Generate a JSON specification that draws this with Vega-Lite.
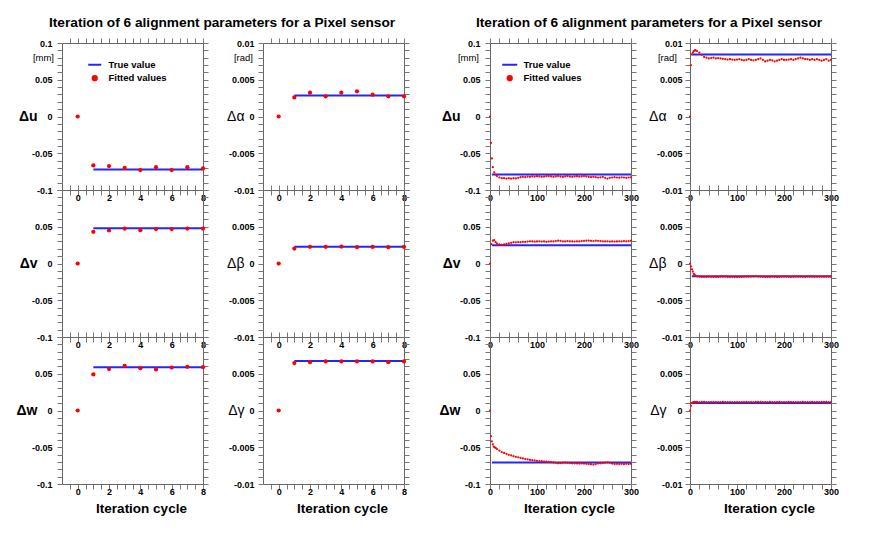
{
"$schema":"https://vega.github.io/schema/vega-lite/v6.json",
"background":"white",
"padding":{"left":15,"top":16,"right":5,"bottom":5},
"config":{
 "font":"Liberation Sans",
 "view":{"stroke":"#666","strokeWidth":1},
 "axis":{"domain":false,"grid":false,"ticks":true,"tickSize":5,"tickColor":"#777","tickWidth":1,"labelFont":"Liberation Sans","labelFontSize":9,"labelFontWeight":"bold","labelColor":"#000","labelFlush":false,"labelOverlap":false,"labelBound":false,"titleFont":"Liberation Sans","titleColor":"#000"}
},
"datasets":{
"truth":[
{"p":"Lu","i":1,"v":-0.072},{"p":"Lu","i":8,"v":-0.072},
{"p":"La","i":1,"v":0.00287},{"p":"La","i":8,"v":0.00287},
{"p":"Lv","i":1,"v":0.0478},{"p":"Lv","i":8,"v":0.0478},
{"p":"Lb","i":1,"v":0.00227},{"p":"Lb","i":8,"v":0.00227},
{"p":"Lw","i":1,"v":0.0588},{"p":"Lw","i":8,"v":0.0588},
{"p":"Lg","i":1,"v":0.00672},{"p":"Lg","i":8,"v":0.00672},
{"p":"Ru","i":4,"v":-0.079},{"p":"Ru","i":300,"v":-0.079},
{"p":"Ra","i":4,"v":0.00845},{"p":"Ra","i":300,"v":0.00845},
{"p":"Rv","i":4,"v":0.025},{"p":"Rv","i":300,"v":0.025},
{"p":"Rb","i":4,"v":-0.00175},{"p":"Rb","i":300,"v":-0.00175},
{"p":"Rw","i":4,"v":-0.0709},{"p":"Rw","i":300,"v":-0.0709},
{"p":"Rg","i":4,"v":0.00103},{"p":"Rg","i":300,"v":0.00103}
],
"pts":[
{"p":"Lu","i":0,"v":0},{"p":"Lu","i":1,"v":-0.0665},{"p":"Lu","i":2,"v":-0.0674},{"p":"Lu","i":3,"v":-0.070},{"p":"Lu","i":4,"v":-0.0728},{"p":"Lu","i":5,"v":-0.069},{"p":"Lu","i":6,"v":-0.0728},{"p":"Lu","i":7,"v":-0.069},{"p":"Lu","i":8,"v":-0.0707},
{"p":"La","i":0,"v":0},{"p":"La","i":1,"v":0.0026},{"p":"La","i":2,"v":0.00324},{"p":"La","i":3,"v":0.00274},{"p":"La","i":4,"v":0.00324},{"p":"La","i":5,"v":0.00342},{"p":"La","i":6,"v":0.00297},{"p":"La","i":7,"v":0.00274},{"p":"La","i":8,"v":0.00274},
{"p":"Lv","i":0,"v":0},{"p":"Lv","i":1,"v":0.0431},{"p":"Lv","i":2,"v":0.0449},{"p":"Lv","i":3,"v":0.0476},{"p":"Lv","i":4,"v":0.0454},{"p":"Lv","i":5,"v":0.0468},{"p":"Lv","i":6,"v":0.0468},{"p":"Lv","i":7,"v":0.0476},{"p":"Lv","i":8,"v":0.0476},
{"p":"Lb","i":0,"v":0},{"p":"Lb","i":1,"v":0.00204},{"p":"Lb","i":2,"v":0.00227},{"p":"Lb","i":3,"v":0.00227},{"p":"Lb","i":4,"v":0.0023},{"p":"Lb","i":5,"v":0.00222},{"p":"Lb","i":6,"v":0.00225},{"p":"Lb","i":7,"v":0.00222},{"p":"Lb","i":8,"v":0.00225},
{"p":"Lw","i":0,"v":0},{"p":"Lw","i":1,"v":0.049},{"p":"Lw","i":2,"v":0.0563},{"p":"Lw","i":3,"v":0.0608},{"p":"Lw","i":4,"v":0.0576},{"p":"Lw","i":5,"v":0.0558},{"p":"Lw","i":6,"v":0.0585},{"p":"Lw","i":7,"v":0.0594},{"p":"Lw","i":8,"v":0.059},
{"p":"Lg","i":0,"v":0},{"p":"Lg","i":1,"v":0.00645},{"p":"Lg","i":2,"v":0.00658},{"p":"Lg","i":3,"v":0.00667},{"p":"Lg","i":4,"v":0.00667},{"p":"Lg","i":5,"v":0.00667},{"p":"Lg","i":6,"v":0.00667},{"p":"Lg","i":7,"v":0.00658},{"p":"Lg","i":8,"v":0.00667},
{"p":"Ru","i":0,"v":0},{"p":"Ru","i":2,"v":-0.036},{"p":"Ru","i":4,"v":-0.057},{"p":"Ru","i":6,"v":-0.069},{"p":"Ru","i":9,"v":-0.076},{"p":"Ru","i":12,"v":-0.079},{"p":"Ru","i":15,"v":-0.081},{"p":"Ru","i":20,"v":-0.083},{"p":"Ru","i":25,"v":-0.084},{"p":"Ru","i":30,"v":-0.084},{"p":"Ru","i":35,"v":-0.0845},{"p":"Ru","i":40,"v":-0.084},{"p":"Ru","i":45,"v":-0.0845},{"p":"Ru","i":50,"v":-0.084},{"p":"Ru","i":55,"v":-0.0842},{"p":"Ru","i":60,"v":-0.0835},{"p":"Ru","i":65,"v":-0.0825},{"p":"Ru","i":70,"v":-0.082},{"p":"Ru","i":75,"v":-0.0825},{"p":"Ru","i":80,"v":-0.0818},{"p":"Ru","i":85,"v":-0.082},{"p":"Ru","i":90,"v":-0.0815},{"p":"Ru","i":95,"v":-0.0818},{"p":"Ru","i":100,"v":-0.0812},{"p":"Ru","i":105,"v":-0.0815},{"p":"Ru","i":110,"v":-0.082},{"p":"Ru","i":115,"v":-0.0818},{"p":"Ru","i":120,"v":-0.0812},{"p":"Ru","i":125,"v":-0.081},{"p":"Ru","i":130,"v":-0.0815},{"p":"Ru","i":135,"v":-0.082},{"p":"Ru","i":140,"v":-0.0815},{"p":"Ru","i":145,"v":-0.081},{"p":"Ru","i":150,"v":-0.0818},{"p":"Ru","i":155,"v":-0.0822},{"p":"Ru","i":160,"v":-0.0815},{"p":"Ru","i":165,"v":-0.081},{"p":"Ru","i":170,"v":-0.0818},{"p":"Ru","i":175,"v":-0.082},{"p":"Ru","i":180,"v":-0.0815},{"p":"Ru","i":185,"v":-0.0812},{"p":"Ru","i":190,"v":-0.0818},{"p":"Ru","i":195,"v":-0.0815},{"p":"Ru","i":200,"v":-0.081},{"p":"Ru","i":205,"v":-0.0815},{"p":"Ru","i":210,"v":-0.082},{"p":"Ru","i":215,"v":-0.0825},{"p":"Ru","i":220,"v":-0.082},{"p":"Ru","i":225,"v":-0.0825},{"p":"Ru","i":230,"v":-0.083},{"p":"Ru","i":235,"v":-0.0828},{"p":"Ru","i":240,"v":-0.082},{"p":"Ru","i":245,"v":-0.0835},{"p":"Ru","i":250,"v":-0.0845},{"p":"Ru","i":255,"v":-0.0835},{"p":"Ru","i":260,"v":-0.083},{"p":"Ru","i":265,"v":-0.0825},{"p":"Ru","i":270,"v":-0.083},{"p":"Ru","i":275,"v":-0.0832},{"p":"Ru","i":280,"v":-0.0828},{"p":"Ru","i":285,"v":-0.083},{"p":"Ru","i":290,"v":-0.0835},{"p":"Ru","i":295,"v":-0.083},{"p":"Ru","i":300,"v":-0.0828},
{"p":"Ra","i":0,"v":0},{"p":"Ra","i":2,"v":0.0070},{"p":"Ra","i":4,"v":0.00845},{"p":"Ra","i":6,"v":0.0087},{"p":"Ra","i":8,"v":0.0089},{"p":"Ra","i":10,"v":0.0090},{"p":"Ra","i":12,"v":0.0090},{"p":"Ra","i":15,"v":0.0089},{"p":"Ra","i":20,"v":0.0087},{"p":"Ra","i":25,"v":0.0084},{"p":"Ra","i":30,"v":0.0081},{"p":"Ra","i":35,"v":0.0080},{"p":"Ra","i":40,"v":0.0079},{"p":"Ra","i":45,"v":0.00795},{"p":"Ra","i":50,"v":0.0080},{"p":"Ra","i":55,"v":0.0079},{"p":"Ra","i":60,"v":0.00795},{"p":"Ra","i":65,"v":0.0079},{"p":"Ra","i":70,"v":0.00785},{"p":"Ra","i":75,"v":0.0078},{"p":"Ra","i":80,"v":0.00775},{"p":"Ra","i":85,"v":0.0078},{"p":"Ra","i":90,"v":0.00775},{"p":"Ra","i":95,"v":0.0077},{"p":"Ra","i":100,"v":0.00775},{"p":"Ra","i":105,"v":0.0078},{"p":"Ra","i":110,"v":0.0077},{"p":"Ra","i":115,"v":0.00765},{"p":"Ra","i":120,"v":0.0077},{"p":"Ra","i":125,"v":0.0078},{"p":"Ra","i":130,"v":0.0077},{"p":"Ra","i":135,"v":0.00765},{"p":"Ra","i":140,"v":0.0077},{"p":"Ra","i":145,"v":0.0078},{"p":"Ra","i":150,"v":0.0079},{"p":"Ra","i":155,"v":0.0077},{"p":"Ra","i":160,"v":0.0075},{"p":"Ra","i":165,"v":0.0076},{"p":"Ra","i":170,"v":0.0077},{"p":"Ra","i":175,"v":0.00765},{"p":"Ra","i":180,"v":0.0075},{"p":"Ra","i":185,"v":0.0076},{"p":"Ra","i":190,"v":0.0077},{"p":"Ra","i":195,"v":0.0078},{"p":"Ra","i":200,"v":0.0077},{"p":"Ra","i":205,"v":0.0077},{"p":"Ra","i":210,"v":0.00775},{"p":"Ra","i":215,"v":0.0078},{"p":"Ra","i":220,"v":0.0077},{"p":"Ra","i":225,"v":0.0078},{"p":"Ra","i":230,"v":0.0079},{"p":"Ra","i":235,"v":0.0080},{"p":"Ra","i":240,"v":0.0079},{"p":"Ra","i":245,"v":0.0078},{"p":"Ra","i":250,"v":0.0078},{"p":"Ra","i":255,"v":0.0077},{"p":"Ra","i":260,"v":0.0078},{"p":"Ra","i":265,"v":0.0077},{"p":"Ra","i":270,"v":0.0078},{"p":"Ra","i":275,"v":0.0077},{"p":"Ra","i":280,"v":0.0076},{"p":"Ra","i":285,"v":0.0077},{"p":"Ra","i":290,"v":0.0078},{"p":"Ra","i":295,"v":0.0076},{"p":"Ra","i":300,"v":0.0077},
{"p":"Rv","i":0,"v":0},{"p":"Rv","i":3,"v":0.0264},{"p":"Rv","i":6,"v":0.031},{"p":"Rv","i":9,"v":0.0318},{"p":"Rv","i":12,"v":0.029},{"p":"Rv","i":15,"v":0.027},{"p":"Rv","i":20,"v":0.026},{"p":"Rv","i":25,"v":0.0255},{"p":"Rv","i":30,"v":0.026},{"p":"Rv","i":35,"v":0.0268},{"p":"Rv","i":40,"v":0.0275},{"p":"Rv","i":45,"v":0.0282},{"p":"Rv","i":50,"v":0.029},{"p":"Rv","i":55,"v":0.0288},{"p":"Rv","i":60,"v":0.0292},{"p":"Rv","i":65,"v":0.029},{"p":"Rv","i":70,"v":0.0295},{"p":"Rv","i":75,"v":0.0293},{"p":"Rv","i":80,"v":0.0298},{"p":"Rv","i":85,"v":0.0302},{"p":"Rv","i":90,"v":0.030},{"p":"Rv","i":95,"v":0.0297},{"p":"Rv","i":100,"v":0.030},{"p":"Rv","i":105,"v":0.0302},{"p":"Rv","i":110,"v":0.0298},{"p":"Rv","i":115,"v":0.030},{"p":"Rv","i":120,"v":0.0295},{"p":"Rv","i":125,"v":0.0298},{"p":"Rv","i":130,"v":0.0302},{"p":"Rv","i":135,"v":0.030},{"p":"Rv","i":140,"v":0.0305},{"p":"Rv","i":145,"v":0.031},{"p":"Rv","i":150,"v":0.0308},{"p":"Rv","i":155,"v":0.0302},{"p":"Rv","i":160,"v":0.030},{"p":"Rv","i":165,"v":0.0305},{"p":"Rv","i":170,"v":0.0302},{"p":"Rv","i":175,"v":0.030},{"p":"Rv","i":180,"v":0.0298},{"p":"Rv","i":185,"v":0.0302},{"p":"Rv","i":190,"v":0.030},{"p":"Rv","i":195,"v":0.0305},{"p":"Rv","i":200,"v":0.0308},{"p":"Rv","i":205,"v":0.031},{"p":"Rv","i":210,"v":0.0312},{"p":"Rv","i":215,"v":0.0308},{"p":"Rv","i":220,"v":0.0305},{"p":"Rv","i":225,"v":0.031},{"p":"Rv","i":230,"v":0.0308},{"p":"Rv","i":235,"v":0.0305},{"p":"Rv","i":240,"v":0.0302},{"p":"Rv","i":245,"v":0.030},{"p":"Rv","i":250,"v":0.0302},{"p":"Rv","i":255,"v":0.0298},{"p":"Rv","i":260,"v":0.030},{"p":"Rv","i":265,"v":0.0298},{"p":"Rv","i":270,"v":0.030},{"p":"Rv","i":275,"v":0.0302},{"p":"Rv","i":280,"v":0.030},{"p":"Rv","i":285,"v":0.0305},{"p":"Rv","i":290,"v":0.0302},{"p":"Rv","i":295,"v":0.0305},{"p":"Rv","i":300,"v":0.031},
{"p":"Rb","i":0,"v":0},{"p":"Rb","i":2,"v":-0.0004},{"p":"Rb","i":4,"v":-0.0008},{"p":"Rb","i":6,"v":-0.0011},{"p":"Rb","i":8,"v":-0.0014},{"p":"Rb","i":10,"v":-0.00155},{"p":"Rb","i":12,"v":-0.00167},{"p":"Rb","i":15,"v":-0.00175},{"p":"Rb","i":20,"v":-0.0018},{"p":"Rb","i":25,"v":-0.00182},{"p":"Rb","i":30,"v":-0.00183},{"p":"Rb","i":35,"v":-0.00182},{"p":"Rb","i":40,"v":-0.0018},{"p":"Rb","i":45,"v":-0.00181},{"p":"Rb","i":50,"v":-0.00182},{"p":"Rb","i":55,"v":-0.00183},{"p":"Rb","i":60,"v":-0.00182},{"p":"Rb","i":65,"v":-0.0018},{"p":"Rb","i":70,"v":-0.00179},{"p":"Rb","i":75,"v":-0.0018},{"p":"Rb","i":80,"v":-0.00182},{"p":"Rb","i":85,"v":-0.00183},{"p":"Rb","i":90,"v":-0.00182},{"p":"Rb","i":95,"v":-0.00184},{"p":"Rb","i":100,"v":-0.00185},{"p":"Rb","i":105,"v":-0.00184},{"p":"Rb","i":110,"v":-0.00182},{"p":"Rb","i":115,"v":-0.0018},{"p":"Rb","i":120,"v":-0.00179},{"p":"Rb","i":125,"v":-0.0018},{"p":"Rb","i":130,"v":-0.00178},{"p":"Rb","i":135,"v":-0.00176},{"p":"Rb","i":140,"v":-0.00175},{"p":"Rb","i":145,"v":-0.00177},{"p":"Rb","i":150,"v":-0.00179},{"p":"Rb","i":155,"v":-0.00181},{"p":"Rb","i":160,"v":-0.00183},{"p":"Rb","i":165,"v":-0.00184},{"p":"Rb","i":170,"v":-0.00182},{"p":"Rb","i":175,"v":-0.0018},{"p":"Rb","i":180,"v":-0.00181},{"p":"Rb","i":185,"v":-0.00183},{"p":"Rb","i":190,"v":-0.00182},{"p":"Rb","i":195,"v":-0.0018},{"p":"Rb","i":200,"v":-0.00179},{"p":"Rb","i":205,"v":-0.0018},{"p":"Rb","i":210,"v":-0.00181},{"p":"Rb","i":215,"v":-0.00182},{"p":"Rb","i":220,"v":-0.00181},{"p":"Rb","i":225,"v":-0.0018},{"p":"Rb","i":230,"v":-0.00179},{"p":"Rb","i":235,"v":-0.0018},{"p":"Rb","i":240,"v":-0.00181},{"p":"Rb","i":245,"v":-0.00182},{"p":"Rb","i":250,"v":-0.0018},{"p":"Rb","i":255,"v":-0.00179},{"p":"Rb","i":260,"v":-0.0018},{"p":"Rb","i":265,"v":-0.00181},{"p":"Rb","i":270,"v":-0.0018},{"p":"Rb","i":275,"v":-0.00179},{"p":"Rb","i":280,"v":-0.0018},{"p":"Rb","i":285,"v":-0.00181},{"p":"Rb","i":290,"v":-0.0018},{"p":"Rb","i":295,"v":-0.00179},{"p":"Rb","i":300,"v":-0.0018},
{"p":"Rw","i":0,"v":0},{"p":"Rw","i":2,"v":-0.035},{"p":"Rw","i":4,"v":-0.042},{"p":"Rw","i":6,"v":-0.046},{"p":"Rw","i":8,"v":-0.049},{"p":"Rw","i":10,"v":-0.050},{"p":"Rw","i":12,"v":-0.051},{"p":"Rw","i":15,"v":-0.0525},{"p":"Rw","i":20,"v":-0.0545},{"p":"Rw","i":25,"v":-0.0565},{"p":"Rw","i":30,"v":-0.0578},{"p":"Rw","i":35,"v":-0.059},{"p":"Rw","i":40,"v":-0.0603},{"p":"Rw","i":45,"v":-0.0612},{"p":"Rw","i":50,"v":-0.0622},{"p":"Rw","i":55,"v":-0.063},{"p":"Rw","i":60,"v":-0.0637},{"p":"Rw","i":65,"v":-0.0645},{"p":"Rw","i":70,"v":-0.0652},{"p":"Rw","i":75,"v":-0.066},{"p":"Rw","i":80,"v":-0.0665},{"p":"Rw","i":85,"v":-0.0672},{"p":"Rw","i":90,"v":-0.0676},{"p":"Rw","i":95,"v":-0.068},{"p":"Rw","i":100,"v":-0.0685},{"p":"Rw","i":105,"v":-0.0688},{"p":"Rw","i":110,"v":-0.069},{"p":"Rw","i":115,"v":-0.0694},{"p":"Rw","i":120,"v":-0.0697},{"p":"Rw","i":125,"v":-0.070},{"p":"Rw","i":130,"v":-0.0703},{"p":"Rw","i":135,"v":-0.0706},{"p":"Rw","i":140,"v":-0.0712},{"p":"Rw","i":145,"v":-0.0718},{"p":"Rw","i":150,"v":-0.0715},{"p":"Rw","i":155,"v":-0.0712},{"p":"Rw","i":160,"v":-0.071},{"p":"Rw","i":165,"v":-0.0712},{"p":"Rw","i":170,"v":-0.0715},{"p":"Rw","i":175,"v":-0.0718},{"p":"Rw","i":180,"v":-0.0718},{"p":"Rw","i":185,"v":-0.072},{"p":"Rw","i":190,"v":-0.0722},{"p":"Rw","i":195,"v":-0.072},{"p":"Rw","i":200,"v":-0.0722},{"p":"Rw","i":205,"v":-0.0725},{"p":"Rw","i":210,"v":-0.0728},{"p":"Rw","i":215,"v":-0.073},{"p":"Rw","i":220,"v":-0.0735},{"p":"Rw","i":225,"v":-0.0728},{"p":"Rw","i":230,"v":-0.072},{"p":"Rw","i":235,"v":-0.0718},{"p":"Rw","i":240,"v":-0.0715},{"p":"Rw","i":245,"v":-0.071},{"p":"Rw","i":250,"v":-0.0705},{"p":"Rw","i":255,"v":-0.0712},{"p":"Rw","i":260,"v":-0.0722},{"p":"Rw","i":265,"v":-0.0728},{"p":"Rw","i":270,"v":-0.0725},{"p":"Rw","i":275,"v":-0.0728},{"p":"Rw","i":280,"v":-0.0725},{"p":"Rw","i":285,"v":-0.0728},{"p":"Rw","i":290,"v":-0.0725},{"p":"Rw","i":295,"v":-0.0728},{"p":"Rw","i":300,"v":-0.0725},
{"p":"Rg","i":0,"v":0},{"p":"Rg","i":2,"v":0.00064},{"p":"Rg","i":4,"v":0.001},{"p":"Rg","i":6,"v":0.00112},{"p":"Rg","i":8,"v":0.00115},{"p":"Rg","i":10,"v":0.00116},{"p":"Rg","i":12,"v":0.00115},{"p":"Rg","i":15,"v":0.00116},{"p":"Rg","i":20,"v":0.00115},{"p":"Rg","i":25,"v":0.00117},{"p":"Rg","i":30,"v":0.00116},{"p":"Rg","i":35,"v":0.00115},{"p":"Rg","i":40,"v":0.00114},{"p":"Rg","i":45,"v":0.00115},{"p":"Rg","i":50,"v":0.00116},{"p":"Rg","i":55,"v":0.00115},{"p":"Rg","i":60,"v":0.00114},{"p":"Rg","i":65,"v":0.00115},{"p":"Rg","i":70,"v":0.00116},{"p":"Rg","i":75,"v":0.00115},{"p":"Rg","i":80,"v":0.00114},{"p":"Rg","i":85,"v":0.00113},{"p":"Rg","i":90,"v":0.00114},{"p":"Rg","i":95,"v":0.00115},{"p":"Rg","i":100,"v":0.00114},{"p":"Rg","i":105,"v":0.00113},{"p":"Rg","i":110,"v":0.00114},{"p":"Rg","i":115,"v":0.00115},{"p":"Rg","i":120,"v":0.00116},{"p":"Rg","i":125,"v":0.00115},{"p":"Rg","i":130,"v":0.00114},{"p":"Rg","i":135,"v":0.00115},{"p":"Rg","i":140,"v":0.00116},{"p":"Rg","i":145,"v":0.00117},{"p":"Rg","i":150,"v":0.00116},{"p":"Rg","i":155,"v":0.00115},{"p":"Rg","i":160,"v":0.00114},{"p":"Rg","i":165,"v":0.00115},{"p":"Rg","i":170,"v":0.00116},{"p":"Rg","i":175,"v":0.00115},{"p":"Rg","i":180,"v":0.00114},{"p":"Rg","i":185,"v":0.00115},{"p":"Rg","i":190,"v":0.00116},{"p":"Rg","i":195,"v":0.00115},{"p":"Rg","i":200,"v":0.00114},{"p":"Rg","i":205,"v":0.00115},{"p":"Rg","i":210,"v":0.00116},{"p":"Rg","i":215,"v":0.00115},{"p":"Rg","i":220,"v":0.00114},{"p":"Rg","i":225,"v":0.00113},{"p":"Rg","i":230,"v":0.00114},{"p":"Rg","i":235,"v":0.00115},{"p":"Rg","i":240,"v":0.00116},{"p":"Rg","i":245,"v":0.00115},{"p":"Rg","i":250,"v":0.00114},{"p":"Rg","i":255,"v":0.00115},{"p":"Rg","i":260,"v":0.00116},{"p":"Rg","i":265,"v":0.00115},{"p":"Rg","i":270,"v":0.00114},{"p":"Rg","i":275,"v":0.00115},{"p":"Rg","i":280,"v":0.00116},{"p":"Rg","i":285,"v":0.00117},{"p":"Rg","i":290,"v":0.00116},{"p":"Rg","i":295,"v":0.00115},{"p":"Rg","i":300,"v":0.00114}
]
},
"hconcat":[
{
 "title":{"text":"Iteration of 6 alignment parameters for a Pixel sensor","frame":"group","anchor":"start","dx":-13,"fontSize":13.7,"fontWeight":"bold","font":"Liberation Sans","color":"#000","offset":7},
 "columns":2,"spacing":{"row":0,"column":60},"bounds":"flush",
 "resolve":{"scale":{"color":"independent"},"legend":{"color":"independent"}},
 "concat":[
  {"width":141,"height":147,"resolve":{"axis":{"x":"independent","y":"independent"}},
   "layer":[
    {"data":{"name":"truth"},"transform":[{"filter":"datum.p=='Lu'"}],"mark":{"type":"line","strokeWidth":2},
     "encoding":{
      "x":{"field":"i","type":"quantitative","scale":{"domain":[-1,8],"nice":false,"zero":false},"axis":{"orient":"bottom","values":[-0.5,0,0.5,1,1.5,2,2.5,3,3.5,4,4.5,5,5.5,6,6.5,7,7.5,8],"labelExpr":"datum.value%2==0 ? ''+datum.value : ''","labelPadding":-2,"title":null,"encode":{"ticks":{"update":{"y2":{"signal":"datum.value%2==0 ? -5 : -3"}}}}}},
      "y":{"field":"v","type":"quantitative","scale":{"domain":[-0.1,0.1],"nice":false,"zero":false},"axis":{"orient":"left","values":[-0.1,-0.09,-0.08,-0.07,-0.06,-0.05,-0.04,-0.03,-0.02,-0.01,0,0.01,0.02,0.03,0.04,0.05,0.06,0.07,0.08,0.09,0.1],"labelExpr":"abs(datum.value*20-round(datum.value*20))<0.001 ? ''+datum.value : ''","labelPadding":5,"title":"Δu","titleAngle":0,"titleAlign":"right","titleBaseline":"middle","titleX":-25,"titleY":73.5,"titleFontSize":14,"titleFontWeight":"bold","encode":{"ticks":{"update":{"x2":{"signal":"abs(datum.value*20-round(datum.value*20))<0.001 ? 5 : 3"}}}}}},
      "color":{"datum":"True value","scale":{"domain":["True value","Fitted values"],"range":["#2424ff","#ff0000"]},
       "legend":{"orient":"none","legendX":28,"legendY":17,"title":null,"padding":0,"symbolSize":100,"labelOffset":9,"rowPadding":1.4,"labelFont":"Liberation Sans","labelFontSize":9.5,"labelFontWeight":"bold","labelColor":"#000",
        "encode":{"symbols":{"update":{"shape":{"signal":"datum.value=='True value' ? 'M-1.3,0H1.3' : 'circle'"},"size":{"signal":"datum.value=='True value' ? 100 : 18"},"fill":{"signal":"datum.value=='True value' ? 'transparent' : '#ff0000'"},"stroke":{"signal":"datum.value=='True value' ? '#2424ff' : 'transparent'"},"strokeWidth":{"value":2},"opacity":{"value":1}}}}}}
     }},
    {"data":{"name":"pts"},"transform":[{"filter":"datum.p=='Lu'"}],"mark":{"type":"circle","size":18,"opacity":1},
     "encoding":{
      "x":{"field":"i","type":"quantitative","axis":{"orient":"top","values":[-0.5,0,0.5,1,1.5,2,2.5,3,3.5,4,4.5,5,5.5,6,6.5,7,7.5,8],"labels":false,"title":null,"encode":{"ticks":{"update":{"y2":{"signal":"datum.value%2==0 ? 5 : 3"}}}}}},
      "y":{"field":"v","type":"quantitative","axis":{"orient":"right","values":[-0.1,-0.09,-0.08,-0.07,-0.06,-0.05,-0.04,-0.03,-0.02,-0.01,0,0.01,0.02,0.03,0.04,0.05,0.06,0.07,0.08,0.09,0.1],"labels":false,"title":null,"encode":{"ticks":{"update":{"x2":{"signal":"abs(datum.value*20-round(datum.value*20))<0.001 ? -5 : -3"}}}}}},
      "color":{"datum":"Fitted values"}
     }},
    {"data":{"values":[{"t":"[mm]"}]},"mark":{"type":"text","align":"right","baseline":"middle","dx":-8,"fontSize":9.5,"font":"Liberation Sans","color":"#000"},
     "encoding":{"x":{"datum":-1,"type":"quantitative","axis":null},"y":{"datum":0.08,"type":"quantitative","axis":null},"text":{"field":"t"}}}
   ]},
  {"width":141,"height":147,"resolve":{"axis":{"x":"independent","y":"independent"}},
   "layer":[
    {"data":{"name":"truth"},"transform":[{"filter":"datum.p=='La'"}],"mark":{"type":"line","strokeWidth":2,"color":"#2424ff"},
     "encoding":{
      "x":{"field":"i","type":"quantitative","scale":{"domain":[-1,8],"nice":false,"zero":false},"axis":{"orient":"bottom","values":[-0.5,0,0.5,1,1.5,2,2.5,3,3.5,4,4.5,5,5.5,6,6.5,7,7.5,8],"labelExpr":"datum.value%2==0 ? ''+datum.value : ''","labelPadding":-2,"title":null,"encode":{"ticks":{"update":{"y2":{"signal":"datum.value%2==0 ? -5 : -3"}}}}}},
      "y":{"field":"v","type":"quantitative","scale":{"domain":[-0.01,0.01],"nice":false,"zero":false},"axis":{"orient":"left","values":[-0.01,-0.009,-0.008,-0.007,-0.006,-0.005,-0.004,-0.003,-0.002,-0.001,0,0.001,0.002,0.003,0.004,0.005,0.006,0.007,0.008,0.009,0.01],"labelExpr":"abs(datum.value*200-round(datum.value*200))<0.001 ? ''+datum.value : ''","labelPadding":4,"title":"Δα","titleAngle":0,"titleAlign":"right","titleBaseline":"middle","titleX":-19,"titleY":73.5,"titleFontSize":14,"titleFontWeight":"normal","encode":{"ticks":{"update":{"x2":{"signal":"abs(datum.value*200-round(datum.value*200))<0.001 ? 5 : 3"}}}}}}
     }},
    {"data":{"name":"pts"},"transform":[{"filter":"datum.p=='La'"}],"mark":{"type":"circle","size":18,"opacity":1,"color":"#ff0000"},
     "encoding":{
      "x":{"field":"i","type":"quantitative","axis":{"orient":"top","values":[-0.5,0,0.5,1,1.5,2,2.5,3,3.5,4,4.5,5,5.5,6,6.5,7,7.5,8],"labels":false,"title":null,"encode":{"ticks":{"update":{"y2":{"signal":"datum.value%2==0 ? 5 : 3"}}}}}},
      "y":{"field":"v","type":"quantitative","axis":{"orient":"right","values":[-0.01,-0.009,-0.008,-0.007,-0.006,-0.005,-0.004,-0.003,-0.002,-0.001,0,0.001,0.002,0.003,0.004,0.005,0.006,0.007,0.008,0.009,0.01],"labels":false,"title":null,"encode":{"ticks":{"update":{"x2":{"signal":"abs(datum.value*200-round(datum.value*200))<0.001 ? -5 : -3"}}}}}}
     }},
    {"data":{"values":[{"t":"[rad]"}]},"mark":{"type":"text","align":"right","baseline":"middle","dx":-10,"fontSize":9.5,"font":"Liberation Sans","color":"#000"},
     "encoding":{"x":{"datum":-1,"type":"quantitative","axis":null},"y":{"datum":0.008,"type":"quantitative","axis":null},"text":{"field":"t"}}}
   ]},
  {"width":141,"height":147,"resolve":{"axis":{"x":"independent","y":"independent"}},
   "layer":[
    {"data":{"name":"truth"},"transform":[{"filter":"datum.p=='Lv'"}],"mark":{"type":"line","strokeWidth":2,"color":"#2424ff"},
     "encoding":{
      "x":{"field":"i","type":"quantitative","scale":{"domain":[-1,8],"nice":false,"zero":false},"axis":{"orient":"bottom","values":[-0.5,0,0.5,1,1.5,2,2.5,3,3.5,4,4.5,5,5.5,6,6.5,7,7.5,8],"labelExpr":"datum.value%2==0 ? ''+datum.value : ''","labelPadding":-2,"title":null,"encode":{"ticks":{"update":{"y2":{"signal":"datum.value%2==0 ? -5 : -3"}}}}}},
      "y":{"field":"v","type":"quantitative","scale":{"domain":[-0.1,0.1],"nice":false,"zero":false},"axis":{"orient":"left","values":[-0.1,-0.09,-0.08,-0.07,-0.06,-0.05,-0.04,-0.03,-0.02,-0.01,0,0.01,0.02,0.03,0.04,0.05,0.06,0.07,0.08,0.09,0.1],"labelExpr":"abs(datum.value*20-round(datum.value*20))<0.001 && datum.value<0.099 ? ''+datum.value : ''","labelPadding":5,"title":"Δv","titleAngle":0,"titleAlign":"right","titleBaseline":"middle","titleX":-25,"titleY":73.5,"titleFontSize":14,"titleFontWeight":"bold","encode":{"ticks":{"update":{"x2":{"signal":"abs(datum.value*20-round(datum.value*20))<0.001 ? 5 : 3"}}}}}}
     }},
    {"data":{"name":"pts"},"transform":[{"filter":"datum.p=='Lv'"}],"mark":{"type":"circle","size":18,"opacity":1,"color":"#ff0000"},
     "encoding":{
      "x":{"field":"i","type":"quantitative","axis":{"orient":"top","values":[-0.5,0,0.5,1,1.5,2,2.5,3,3.5,4,4.5,5,5.5,6,6.5,7,7.5,8],"labels":false,"title":null,"encode":{"ticks":{"update":{"y2":{"signal":"datum.value%2==0 ? 5 : 3"}}}}}},
      "y":{"field":"v","type":"quantitative","axis":{"orient":"right","values":[-0.1,-0.09,-0.08,-0.07,-0.06,-0.05,-0.04,-0.03,-0.02,-0.01,0,0.01,0.02,0.03,0.04,0.05,0.06,0.07,0.08,0.09,0.1],"labels":false,"title":null,"encode":{"ticks":{"update":{"x2":{"signal":"abs(datum.value*20-round(datum.value*20))<0.001 ? -5 : -3"}}}}}}
     }}
   ]},
  {"width":141,"height":147,"resolve":{"axis":{"x":"independent","y":"independent"}},
   "layer":[
    {"data":{"name":"truth"},"transform":[{"filter":"datum.p=='Lb'"}],"mark":{"type":"line","strokeWidth":2,"color":"#2424ff"},
     "encoding":{
      "x":{"field":"i","type":"quantitative","scale":{"domain":[-1,8],"nice":false,"zero":false},"axis":{"orient":"bottom","values":[-0.5,0,0.5,1,1.5,2,2.5,3,3.5,4,4.5,5,5.5,6,6.5,7,7.5,8],"labelExpr":"datum.value%2==0 ? ''+datum.value : ''","labelPadding":-2,"title":null,"encode":{"ticks":{"update":{"y2":{"signal":"datum.value%2==0 ? -5 : -3"}}}}}},
      "y":{"field":"v","type":"quantitative","scale":{"domain":[-0.01,0.01],"nice":false,"zero":false},"axis":{"orient":"left","values":[-0.01,-0.009,-0.008,-0.007,-0.006,-0.005,-0.004,-0.003,-0.002,-0.001,0,0.001,0.002,0.003,0.004,0.005,0.006,0.007,0.008,0.009,0.01],"labelExpr":"abs(datum.value*200-round(datum.value*200))<0.001 && datum.value<0.0099 ? ''+datum.value : ''","labelPadding":4,"title":"Δβ","titleAngle":0,"titleAlign":"right","titleBaseline":"middle","titleX":-19,"titleY":73.5,"titleFontSize":14,"titleFontWeight":"normal","encode":{"ticks":{"update":{"x2":{"signal":"abs(datum.value*200-round(datum.value*200))<0.001 ? 5 : 3"}}}}}}
     }},
    {"data":{"name":"pts"},"transform":[{"filter":"datum.p=='Lb'"}],"mark":{"type":"circle","size":18,"opacity":1,"color":"#ff0000"},
     "encoding":{
      "x":{"field":"i","type":"quantitative","axis":{"orient":"top","values":[-0.5,0,0.5,1,1.5,2,2.5,3,3.5,4,4.5,5,5.5,6,6.5,7,7.5,8],"labels":false,"title":null,"encode":{"ticks":{"update":{"y2":{"signal":"datum.value%2==0 ? 5 : 3"}}}}}},
      "y":{"field":"v","type":"quantitative","axis":{"orient":"right","values":[-0.01,-0.009,-0.008,-0.007,-0.006,-0.005,-0.004,-0.003,-0.002,-0.001,0,0.001,0.002,0.003,0.004,0.005,0.006,0.007,0.008,0.009,0.01],"labels":false,"title":null,"encode":{"ticks":{"update":{"x2":{"signal":"abs(datum.value*200-round(datum.value*200))<0.001 ? -5 : -3"}}}}}}
     }}
   ]},
  {"width":141,"height":147,"resolve":{"axis":{"x":"independent","y":"independent"}},
   "layer":[
    {"data":{"name":"truth"},"transform":[{"filter":"datum.p=='Lw'"}],"mark":{"type":"line","strokeWidth":2,"color":"#2424ff"},
     "encoding":{
      "x":{"field":"i","type":"quantitative","scale":{"domain":[-1,8],"nice":false,"zero":false},"axis":{"orient":"bottom","values":[-0.5,0,0.5,1,1.5,2,2.5,3,3.5,4,4.5,5,5.5,6,6.5,7,7.5,8],"labelExpr":"datum.value%2==0 ? ''+datum.value : ''","labelPadding":-2,"title":"Iteration cycle","titleFontSize":13.5,"titleFontWeight":"bold","titleX":79,"titlePadding":5,"encode":{"ticks":{"update":{"y2":{"signal":"datum.value%2==0 ? -5 : -3"}}}}}},
      "y":{"field":"v","type":"quantitative","scale":{"domain":[-0.1,0.1],"nice":false,"zero":false},"axis":{"orient":"left","values":[-0.1,-0.09,-0.08,-0.07,-0.06,-0.05,-0.04,-0.03,-0.02,-0.01,0,0.01,0.02,0.03,0.04,0.05,0.06,0.07,0.08,0.09,0.1],"labelExpr":"abs(datum.value*20-round(datum.value*20))<0.001 && datum.value<0.099 ? ''+datum.value : ''","labelPadding":5,"title":"Δw","titleAngle":0,"titleAlign":"right","titleBaseline":"middle","titleX":-25,"titleY":73.5,"titleFontSize":14,"titleFontWeight":"bold","encode":{"ticks":{"update":{"x2":{"signal":"abs(datum.value*20-round(datum.value*20))<0.001 ? 5 : 3"}}}}}}
     }},
    {"data":{"name":"pts"},"transform":[{"filter":"datum.p=='Lw'"}],"mark":{"type":"circle","size":18,"opacity":1,"color":"#ff0000"},
     "encoding":{
      "x":{"field":"i","type":"quantitative","axis":{"orient":"top","values":[-0.5,0,0.5,1,1.5,2,2.5,3,3.5,4,4.5,5,5.5,6,6.5,7,7.5,8],"labels":false,"title":null,"encode":{"ticks":{"update":{"y2":{"signal":"datum.value%2==0 ? 5 : 3"}}}}}},
      "y":{"field":"v","type":"quantitative","axis":{"orient":"right","values":[-0.1,-0.09,-0.08,-0.07,-0.06,-0.05,-0.04,-0.03,-0.02,-0.01,0,0.01,0.02,0.03,0.04,0.05,0.06,0.07,0.08,0.09,0.1],"labels":false,"title":null,"encode":{"ticks":{"update":{"x2":{"signal":"abs(datum.value*20-round(datum.value*20))<0.001 ? -5 : -3"}}}}}}
     }}
   ]},
  {"width":141,"height":147,"resolve":{"axis":{"x":"independent","y":"independent"}},
   "layer":[
    {"data":{"name":"truth"},"transform":[{"filter":"datum.p=='Lg'"}],"mark":{"type":"line","strokeWidth":2,"color":"#2424ff"},
     "encoding":{
      "x":{"field":"i","type":"quantitative","scale":{"domain":[-1,8],"nice":false,"zero":false},"axis":{"orient":"bottom","values":[-0.5,0,0.5,1,1.5,2,2.5,3,3.5,4,4.5,5,5.5,6,6.5,7,7.5,8],"labelExpr":"datum.value%2==0 ? ''+datum.value : ''","labelPadding":-2,"title":"Iteration cycle","titleFontSize":13.5,"titleFontWeight":"bold","titleX":79,"titlePadding":5,"encode":{"ticks":{"update":{"y2":{"signal":"datum.value%2==0 ? -5 : -3"}}}}}},
      "y":{"field":"v","type":"quantitative","scale":{"domain":[-0.01,0.01],"nice":false,"zero":false},"axis":{"orient":"left","values":[-0.01,-0.009,-0.008,-0.007,-0.006,-0.005,-0.004,-0.003,-0.002,-0.001,0,0.001,0.002,0.003,0.004,0.005,0.006,0.007,0.008,0.009,0.01],"labelExpr":"abs(datum.value*200-round(datum.value*200))<0.001 && datum.value<0.0099 ? ''+datum.value : ''","labelPadding":4,"title":"Δγ","titleAngle":0,"titleAlign":"right","titleBaseline":"middle","titleX":-19,"titleY":73.5,"titleFontSize":14,"titleFontWeight":"normal","encode":{"ticks":{"update":{"x2":{"signal":"abs(datum.value*200-round(datum.value*200))<0.001 ? 5 : 3"}}}}}}
     }},
    {"data":{"name":"pts"},"transform":[{"filter":"datum.p=='Lg'"}],"mark":{"type":"circle","size":18,"opacity":1,"color":"#ff0000"},
     "encoding":{
      "x":{"field":"i","type":"quantitative","axis":{"orient":"top","values":[-0.5,0,0.5,1,1.5,2,2.5,3,3.5,4,4.5,5,5.5,6,6.5,7,7.5,8],"labels":false,"title":null,"encode":{"ticks":{"update":{"y2":{"signal":"datum.value%2==0 ? 5 : 3"}}}}}},
      "y":{"field":"v","type":"quantitative","axis":{"orient":"right","values":[-0.01,-0.009,-0.008,-0.007,-0.006,-0.005,-0.004,-0.003,-0.002,-0.001,0,0.001,0.002,0.003,0.004,0.005,0.006,0.007,0.008,0.009,0.01],"labels":false,"title":null,"encode":{"ticks":{"update":{"x2":{"signal":"abs(datum.value*200-round(datum.value*200))<0.001 ? -5 : -3"}}}}}}
     }}
   ]}
 ]
},
{
 "title":{"text":"Iteration of 6 alignment parameters for a Pixel sensor","frame":"group","anchor":"start","dx":-14,"fontSize":13.7,"fontWeight":"bold","font":"Liberation Sans","color":"#000","offset":7},
 "columns":2,"spacing":{"row":0,"column":59},"bounds":"flush",
 "resolve":{"scale":{"color":"independent"},"legend":{"color":"independent"}},
 "concat":[
  {"width":141,"height":147,"resolve":{"axis":{"x":"independent","y":"independent"}},
   "layer":[
    {"data":{"name":"truth"},"transform":[{"filter":"datum.p=='Ru'"}],"mark":{"type":"line","strokeWidth":2},
     "encoding":{
      "x":{"field":"i","type":"quantitative","scale":{"domain":[0,300],"nice":false,"zero":false},"axis":{"orient":"bottom","values":[0,20,40,60,80,100,120,140,160,180,200,220,240,260,280,300],"labelExpr":"datum.value%100==0 ? ''+datum.value : ''","labelPadding":-2,"title":null,"encode":{"ticks":{"update":{"y2":{"signal":"datum.value%100==0 ? -5 : -3"}}}}}},
      "y":{"field":"v","type":"quantitative","scale":{"domain":[-0.1,0.1],"nice":false,"zero":false},"axis":{"orient":"left","values":[-0.1,-0.09,-0.08,-0.07,-0.06,-0.05,-0.04,-0.03,-0.02,-0.01,0,0.01,0.02,0.03,0.04,0.05,0.06,0.07,0.08,0.09,0.1],"labelExpr":"abs(datum.value*20-round(datum.value*20))<0.001 ? ''+datum.value : ''","labelPadding":5,"title":"Δu","titleAngle":0,"titleAlign":"right","titleBaseline":"middle","titleX":-30,"titleY":73.5,"titleFontSize":14,"titleFontWeight":"bold","encode":{"ticks":{"update":{"x2":{"signal":"abs(datum.value*20-round(datum.value*20))<0.001 ? 5 : 3"}}}}}},
      "color":{"datum":"True value","scale":{"domain":["True value","Fitted values"],"range":["#2424ff","#ff0000"]},
       "legend":{"orient":"none","legendX":15,"legendY":17,"title":null,"padding":0,"symbolSize":100,"labelOffset":9,"rowPadding":1.4,"labelFont":"Liberation Sans","labelFontSize":9.5,"labelFontWeight":"bold","labelColor":"#000",
        "encode":{"symbols":{"update":{"shape":{"signal":"datum.value=='True value' ? 'M-1.5,0H1.5' : 'circle'"},"size":{"signal":"datum.value=='True value' ? 100 : 18"},"fill":{"signal":"datum.value=='True value' ? 'transparent' : '#ff0000'"},"stroke":{"signal":"datum.value=='True value' ? '#2424ff' : 'transparent'"},"strokeWidth":{"value":2},"opacity":{"value":1}}}}}}
     }},
    {"data":{"name":"pts"},"transform":[{"filter":"datum.p=='Ru'"}],"mark":{"type":"circle","size":5,"opacity":1},
     "encoding":{
      "x":{"field":"i","type":"quantitative","axis":{"orient":"top","values":[0,20,40,60,80,100,120,140,160,180,200,220,240,260,280,300],"labels":false,"title":null,"encode":{"ticks":{"update":{"y2":{"signal":"datum.value%100==0 ? 5 : 3"}}}}}},
      "y":{"field":"v","type":"quantitative","axis":{"orient":"right","values":[-0.1,-0.09,-0.08,-0.07,-0.06,-0.05,-0.04,-0.03,-0.02,-0.01,0,0.01,0.02,0.03,0.04,0.05,0.06,0.07,0.08,0.09,0.1],"labels":false,"title":null,"encode":{"ticks":{"update":{"x2":{"signal":"abs(datum.value*20-round(datum.value*20))<0.001 ? -5 : -3"}}}}}},
      "color":{"datum":"Fitted values"}
     }},
    {"data":{"values":[{"t":"[mm]"}]},"mark":{"type":"text","align":"right","baseline":"middle","dx":-11,"fontSize":9.5,"font":"Liberation Sans","color":"#000"},
     "encoding":{"x":{"datum":0,"type":"quantitative","axis":null},"y":{"datum":0.08,"type":"quantitative","axis":null},"text":{"field":"t"}}}
   ]},
  {"width":141,"height":147,"resolve":{"axis":{"x":"independent","y":"independent"}},
   "layer":[
    {"data":{"name":"truth"},"transform":[{"filter":"datum.p=='Ra'"}],"mark":{"type":"line","strokeWidth":2,"color":"#2424ff"},
     "encoding":{
      "x":{"field":"i","type":"quantitative","scale":{"domain":[0,300],"nice":false,"zero":false},"axis":{"orient":"bottom","values":[0,20,40,60,80,100,120,140,160,180,200,220,240,260,280,300],"labelExpr":"datum.value%100==0 ? ''+datum.value : ''","labelPadding":-2,"title":null,"encode":{"ticks":{"update":{"y2":{"signal":"datum.value%100==0 ? -5 : -3"}}}}}},
      "y":{"field":"v","type":"quantitative","scale":{"domain":[-0.01,0.01],"nice":false,"zero":false},"axis":{"orient":"left","values":[-0.01,-0.009,-0.008,-0.007,-0.006,-0.005,-0.004,-0.003,-0.002,-0.001,0,0.001,0.002,0.003,0.004,0.005,0.006,0.007,0.008,0.009,0.01],"labelExpr":"abs(datum.value*200-round(datum.value*200))<0.001 ? ''+datum.value : ''","labelPadding":3,"title":"Δα","titleAngle":0,"titleAlign":"right","titleBaseline":"middle","titleX":-24,"titleY":73.5,"titleFontSize":14,"titleFontWeight":"normal","encode":{"ticks":{"update":{"x2":{"signal":"abs(datum.value*200-round(datum.value*200))<0.001 ? 5 : 3"}}}}}}
     }},
    {"data":{"name":"pts"},"transform":[{"filter":"datum.p=='Ra'"}],"mark":{"type":"circle","size":5,"opacity":1,"color":"#ff0000"},
     "encoding":{
      "x":{"field":"i","type":"quantitative","axis":{"orient":"top","values":[0,20,40,60,80,100,120,140,160,180,200,220,240,260,280,300],"labels":false,"title":null,"encode":{"ticks":{"update":{"y2":{"signal":"datum.value%100==0 ? 5 : 3"}}}}}},
      "y":{"field":"v","type":"quantitative","axis":{"orient":"right","values":[-0.01,-0.009,-0.008,-0.007,-0.006,-0.005,-0.004,-0.003,-0.002,-0.001,0,0.001,0.002,0.003,0.004,0.005,0.006,0.007,0.008,0.009,0.01],"labels":false,"title":null,"encode":{"ticks":{"update":{"x2":{"signal":"abs(datum.value*200-round(datum.value*200))<0.001 ? -5 : -3"}}}}}}
     }},
    {"data":{"values":[{"t":"[rad]"}]},"mark":{"type":"text","align":"right","baseline":"middle","dx":-13,"fontSize":9.5,"font":"Liberation Sans","color":"#000"},
     "encoding":{"x":{"datum":0,"type":"quantitative","axis":null},"y":{"datum":0.008,"type":"quantitative","axis":null},"text":{"field":"t"}}}
   ]},
  {"width":141,"height":147,"resolve":{"axis":{"x":"independent","y":"independent"}},
   "layer":[
    {"data":{"name":"truth"},"transform":[{"filter":"datum.p=='Rv'"}],"mark":{"type":"line","strokeWidth":2,"color":"#2424ff"},
     "encoding":{
      "x":{"field":"i","type":"quantitative","scale":{"domain":[0,300],"nice":false,"zero":false},"axis":{"orient":"bottom","values":[0,20,40,60,80,100,120,140,160,180,200,220,240,260,280,300],"labelExpr":"datum.value%100==0 ? ''+datum.value : ''","labelPadding":-2,"title":null,"encode":{"ticks":{"update":{"y2":{"signal":"datum.value%100==0 ? -5 : -3"}}}}}},
      "y":{"field":"v","type":"quantitative","scale":{"domain":[-0.1,0.1],"nice":false,"zero":false},"axis":{"orient":"left","values":[-0.1,-0.09,-0.08,-0.07,-0.06,-0.05,-0.04,-0.03,-0.02,-0.01,0,0.01,0.02,0.03,0.04,0.05,0.06,0.07,0.08,0.09,0.1],"labelExpr":"abs(datum.value*20-round(datum.value*20))<0.001 && datum.value<0.099 ? ''+datum.value : ''","labelPadding":5,"title":"Δv","titleAngle":0,"titleAlign":"right","titleBaseline":"middle","titleX":-30,"titleY":73.5,"titleFontSize":14,"titleFontWeight":"bold","encode":{"ticks":{"update":{"x2":{"signal":"abs(datum.value*20-round(datum.value*20))<0.001 ? 5 : 3"}}}}}}
     }},
    {"data":{"name":"pts"},"transform":[{"filter":"datum.p=='Rv'"}],"mark":{"type":"circle","size":5,"opacity":1,"color":"#ff0000"},
     "encoding":{
      "x":{"field":"i","type":"quantitative","axis":{"orient":"top","values":[0,20,40,60,80,100,120,140,160,180,200,220,240,260,280,300],"labels":false,"title":null,"encode":{"ticks":{"update":{"y2":{"signal":"datum.value%100==0 ? 5 : 3"}}}}}},
      "y":{"field":"v","type":"quantitative","axis":{"orient":"right","values":[-0.1,-0.09,-0.08,-0.07,-0.06,-0.05,-0.04,-0.03,-0.02,-0.01,0,0.01,0.02,0.03,0.04,0.05,0.06,0.07,0.08,0.09,0.1],"labels":false,"title":null,"encode":{"ticks":{"update":{"x2":{"signal":"abs(datum.value*20-round(datum.value*20))<0.001 ? -5 : -3"}}}}}}
     }}
   ]},
  {"width":141,"height":147,"resolve":{"axis":{"x":"independent","y":"independent"}},
   "layer":[
    {"data":{"name":"truth"},"transform":[{"filter":"datum.p=='Rb'"}],"mark":{"type":"line","strokeWidth":2,"color":"#2424ff"},
     "encoding":{
      "x":{"field":"i","type":"quantitative","scale":{"domain":[0,300],"nice":false,"zero":false},"axis":{"orient":"bottom","values":[0,20,40,60,80,100,120,140,160,180,200,220,240,260,280,300],"labelExpr":"datum.value%100==0 ? ''+datum.value : ''","labelPadding":-2,"title":null,"encode":{"ticks":{"update":{"y2":{"signal":"datum.value%100==0 ? -5 : -3"}}}}}},
      "y":{"field":"v","type":"quantitative","scale":{"domain":[-0.01,0.01],"nice":false,"zero":false},"axis":{"orient":"left","values":[-0.01,-0.009,-0.008,-0.007,-0.006,-0.005,-0.004,-0.003,-0.002,-0.001,0,0.001,0.002,0.003,0.004,0.005,0.006,0.007,0.008,0.009,0.01],"labelExpr":"abs(datum.value*200-round(datum.value*200))<0.001 && datum.value<0.0099 ? ''+datum.value : ''","labelPadding":3,"title":"Δβ","titleAngle":0,"titleAlign":"right","titleBaseline":"middle","titleX":-24,"titleY":73.5,"titleFontSize":14,"titleFontWeight":"normal","encode":{"ticks":{"update":{"x2":{"signal":"abs(datum.value*200-round(datum.value*200))<0.001 ? 5 : 3"}}}}}}
     }},
    {"data":{"name":"pts"},"transform":[{"filter":"datum.p=='Rb'"}],"mark":{"type":"circle","size":5,"opacity":1,"color":"#ff0000"},
     "encoding":{
      "x":{"field":"i","type":"quantitative","axis":{"orient":"top","values":[0,20,40,60,80,100,120,140,160,180,200,220,240,260,280,300],"labels":false,"title":null,"encode":{"ticks":{"update":{"y2":{"signal":"datum.value%100==0 ? 5 : 3"}}}}}},
      "y":{"field":"v","type":"quantitative","axis":{"orient":"right","values":[-0.01,-0.009,-0.008,-0.007,-0.006,-0.005,-0.004,-0.003,-0.002,-0.001,0,0.001,0.002,0.003,0.004,0.005,0.006,0.007,0.008,0.009,0.01],"labels":false,"title":null,"encode":{"ticks":{"update":{"x2":{"signal":"abs(datum.value*200-round(datum.value*200))<0.001 ? -5 : -3"}}}}}}
     }}
   ]},
  {"width":141,"height":147,"resolve":{"axis":{"x":"independent","y":"independent"}},
   "layer":[
    {"data":{"name":"truth"},"transform":[{"filter":"datum.p=='Rw'"}],"mark":{"type":"line","strokeWidth":2,"color":"#2424ff"},
     "encoding":{
      "x":{"field":"i","type":"quantitative","scale":{"domain":[0,300],"nice":false,"zero":false},"axis":{"orient":"bottom","values":[0,20,40,60,80,100,120,140,160,180,200,220,240,260,280,300],"labelExpr":"datum.value%100==0 ? ''+datum.value : ''","labelPadding":-2,"title":"Iteration cycle","titleFontSize":13.5,"titleFontWeight":"bold","titleX":79,"titlePadding":5,"encode":{"ticks":{"update":{"y2":{"signal":"datum.value%100==0 ? -5 : -3"}}}}}},
      "y":{"field":"v","type":"quantitative","scale":{"domain":[-0.1,0.1],"nice":false,"zero":false},"axis":{"orient":"left","values":[-0.1,-0.09,-0.08,-0.07,-0.06,-0.05,-0.04,-0.03,-0.02,-0.01,0,0.01,0.02,0.03,0.04,0.05,0.06,0.07,0.08,0.09,0.1],"labelExpr":"abs(datum.value*20-round(datum.value*20))<0.001 && datum.value<0.099 ? ''+datum.value : ''","labelPadding":5,"title":"Δw","titleAngle":0,"titleAlign":"right","titleBaseline":"middle","titleX":-30,"titleY":73.5,"titleFontSize":14,"titleFontWeight":"bold","encode":{"ticks":{"update":{"x2":{"signal":"abs(datum.value*20-round(datum.value*20))<0.001 ? 5 : 3"}}}}}}
     }},
    {"data":{"name":"pts"},"transform":[{"filter":"datum.p=='Rw'"}],"mark":{"type":"circle","size":5,"opacity":1,"color":"#ff0000"},
     "encoding":{
      "x":{"field":"i","type":"quantitative","axis":{"orient":"top","values":[0,20,40,60,80,100,120,140,160,180,200,220,240,260,280,300],"labels":false,"title":null,"encode":{"ticks":{"update":{"y2":{"signal":"datum.value%100==0 ? 5 : 3"}}}}}},
      "y":{"field":"v","type":"quantitative","axis":{"orient":"right","values":[-0.1,-0.09,-0.08,-0.07,-0.06,-0.05,-0.04,-0.03,-0.02,-0.01,0,0.01,0.02,0.03,0.04,0.05,0.06,0.07,0.08,0.09,0.1],"labels":false,"title":null,"encode":{"ticks":{"update":{"x2":{"signal":"abs(datum.value*20-round(datum.value*20))<0.001 ? -5 : -3"}}}}}}
     }}
   ]},
  {"width":141,"height":147,"resolve":{"axis":{"x":"independent","y":"independent"}},
   "layer":[
    {"data":{"name":"truth"},"transform":[{"filter":"datum.p=='Rg'"}],"mark":{"type":"line","strokeWidth":2,"color":"#2424ff"},
     "encoding":{
      "x":{"field":"i","type":"quantitative","scale":{"domain":[0,300],"nice":false,"zero":false},"axis":{"orient":"bottom","values":[0,20,40,60,80,100,120,140,160,180,200,220,240,260,280,300],"labelExpr":"datum.value%100==0 ? ''+datum.value : ''","labelPadding":-2,"title":"Iteration cycle","titleFontSize":13.5,"titleFontWeight":"bold","titleX":79,"titlePadding":5,"encode":{"ticks":{"update":{"y2":{"signal":"datum.value%100==0 ? -5 : -3"}}}}}},
      "y":{"field":"v","type":"quantitative","scale":{"domain":[-0.01,0.01],"nice":false,"zero":false},"axis":{"orient":"left","values":[-0.01,-0.009,-0.008,-0.007,-0.006,-0.005,-0.004,-0.003,-0.002,-0.001,0,0.001,0.002,0.003,0.004,0.005,0.006,0.007,0.008,0.009,0.01],"labelExpr":"abs(datum.value*200-round(datum.value*200))<0.001 && datum.value<0.0099 ? ''+datum.value : ''","labelPadding":3,"title":"Δγ","titleAngle":0,"titleAlign":"right","titleBaseline":"middle","titleX":-24,"titleY":73.5,"titleFontSize":14,"titleFontWeight":"normal","encode":{"ticks":{"update":{"x2":{"signal":"abs(datum.value*200-round(datum.value*200))<0.001 ? 5 : 3"}}}}}}
     }},
    {"data":{"name":"pts"},"transform":[{"filter":"datum.p=='Rg'"}],"mark":{"type":"circle","size":5,"opacity":1,"color":"#ff0000"},
     "encoding":{
      "x":{"field":"i","type":"quantitative","axis":{"orient":"top","values":[0,20,40,60,80,100,120,140,160,180,200,220,240,260,280,300],"labels":false,"title":null,"encode":{"ticks":{"update":{"y2":{"signal":"datum.value%100==0 ? 5 : 3"}}}}}},
      "y":{"field":"v","type":"quantitative","axis":{"orient":"right","values":[-0.01,-0.009,-0.008,-0.007,-0.006,-0.005,-0.004,-0.003,-0.002,-0.001,0,0.001,0.002,0.003,0.004,0.005,0.006,0.007,0.008,0.009,0.01],"labels":false,"title":null,"encode":{"ticks":{"update":{"x2":{"signal":"abs(datum.value*200-round(datum.value*200))<0.001 ? -5 : -3"}}}}}}
     }}
   ]}
 ]
}
],
"spacing":28,
"resolve":{"scale":{"color":"independent"},"legend":{"color":"independent"}}
}
